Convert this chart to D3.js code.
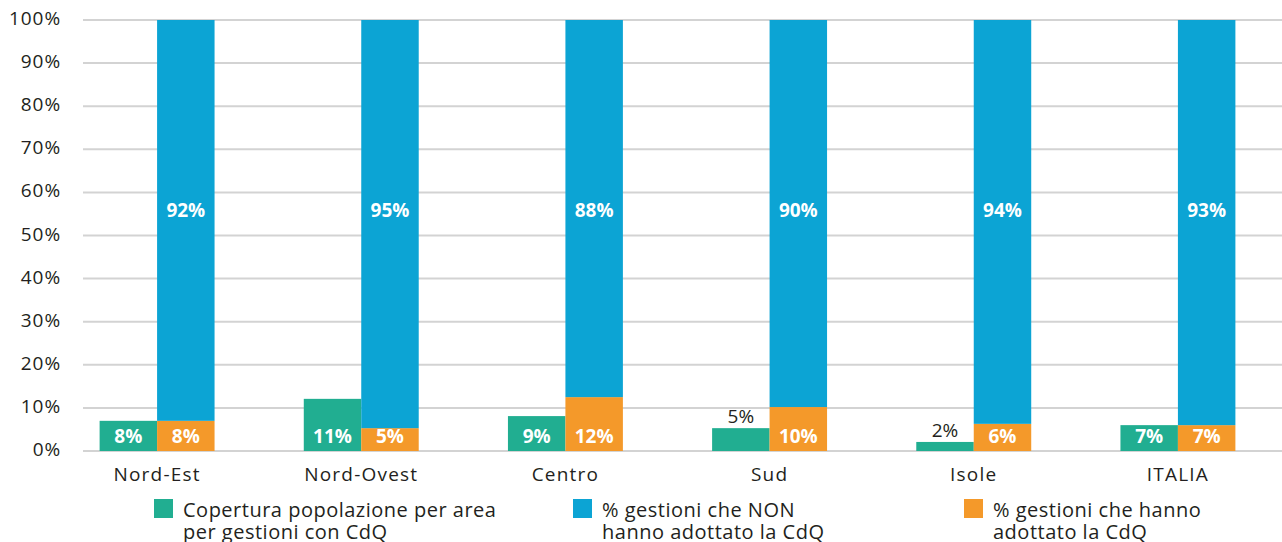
<!DOCTYPE html>
<meta charset="utf-8">
<style>
  body { margin: 0; background: #fff; }
  * { font-family: "Open Sans", sans-serif; }
  .tick-lbl { font-size: 19px; fill: #231f20; letter-spacing: 0.9px; }
  .cat-lbl { font-size: 19px; fill: #231f20; letter-spacing: 1.2px; }
  .val-in { font-size: 19px; font-weight: 700; fill: #fff; }
  .val-out { font-size: 19px; fill: #231f20; }
  .leg { font-size: 20px; fill: #231f20; letter-spacing: 0.5px; }
</style>
<body>
<svg width="1282" height="542"></svg>
<script src="https://d3js.org/d3.v7.min.js"></script>
<script>

// data
var categories = ["Nord-Est", "Nord-Ovest", "Centro", "Sud", "Isole", "ITALIA"];
var copertura = [7.0, 12.1, 8.1, 5.3, 2.1, 6.0];
var adottato = [7.0, 5.3, 12.5, 10.2, 6.3, 6.0];
var nonAdottato = [93.0, 94.7, 87.5, 89.8, 93.7, 94.0];
var coperturaLbl = ["8%", "11%", "9%", "5%", "2%", "7%"];
var adottatoLbl = ["8%", "5%", "12%", "10%", "6%", "7%"];
var nonAdottatoLbl = ["92%", "95%", "88%", "90%", "94%", "93%"];
var yTicks = [0, 10, 20, 30, 40, 50, 60, 70, 80, 90, 100];
var legendNames = [
  ["Copertura popolazione per area", "per gestioni con CdQ"],
  ["% gestioni che NON", "hanno adottato la CdQ"],
  ["% gestioni che hanno", "adottato la CdQ"]
];

var green = "#21ae91", blue = "#0ca4d4", orange = "#f4992a";

var svg = d3.select("svg");

var x = d3.scaleBand().domain(categories).range([55, 1280])
  .paddingInner(0.437).paddingOuter(0.2185);
var y = d3.scaleLinear().domain([0, 100]).range([451, 20]);
var half = x.bandwidth() / 2;

// gridlines
svg.append("g").selectAll("line")
  .data(yTicks).enter().append("line")
  .attr("x1", 83).attr("x2", 1282)
  .attr("y1", function(d) { return y(d); })
  .attr("y2", function(d) { return y(d); })
  .attr("stroke", "#d3d3d3").attr("stroke-width", 2);

// y tick labels
svg.append("g").selectAll("text")
  .data(yTicks).enter().append("text")
  .attr("class", "tick-lbl")
  .attr("x", 61).attr("y", function(d) { return y(d) + 5; })
  .attr("text-anchor", "end")
  .text(function(d) { return d + "%"; });

var rows = categories.map(function(c, i) {
  return { cat: c, cop: copertura[i], ado: adottato[i], non: nonAdottato[i],
           copL: coperturaLbl[i], adoL: adottatoLbl[i], nonL: nonAdottatoLbl[i] };
});

var g = svg.append("g").selectAll("g").data(rows).enter().append("g");

// green bars
g.append("rect")
  .attr("x", function(d) { return x(d.cat); })
  .attr("width", half)
  .attr("y", function(d) { return y(d.cop); })
  .attr("height", function(d) { return y(0) - y(d.cop); })
  .attr("fill", green);

// orange (adopted) bottom
g.append("rect")
  .attr("x", function(d) { return x(d.cat) + half; })
  .attr("width", half)
  .attr("y", function(d) { return y(d.ado); })
  .attr("height", function(d) { return y(0) - y(d.ado); })
  .attr("fill", orange);

// blue (not adopted) on top
g.append("rect")
  .attr("x", function(d) { return x(d.cat) + half; })
  .attr("width", half)
  .attr("y", function(d) { return y(d.ado + d.non); })
  .attr("height", function(d) { return y(d.ado) - y(d.ado + d.non); })
  .attr("fill", blue);

// labels
g.append("text")
  .attr("class", function(d) { return d.cop < 6 ? "val-out" : "val-in"; })
  .attr("x", function(d) { return x(d.cat) + half / 2; })
  .attr("y", function(d) { return d.cop < 6 ? y(d.cop) - 5 : y(0) - 8; })
  .attr("text-anchor", "middle")
  .text(function(d) { return d.copL; });

g.append("text")
  .attr("class", "val-in")
  .attr("x", function(d) { return x(d.cat) + half * 1.5; })
  .attr("y", y(0) - 8)
  .attr("text-anchor", "middle")
  .text(function(d) { return d.adoL; });

g.append("text")
  .attr("class", "val-in")
  .attr("x", function(d) { return x(d.cat) + half * 1.5; })
  .attr("y", y(56) + 7)
  .attr("text-anchor", "middle")
  .text(function(d) { return d.nonL; });

// category labels
g.append("text")
  .attr("class", "cat-lbl")
  .attr("x", function(d) { return x(d.cat) + half; })
  .attr("y", 481)
  .attr("text-anchor", "middle")
  .text(function(d) { return d.cat; });

// legend
var legX = [154, 573, 964];
var legColors = [green, blue, orange];
var leg = svg.append("g").selectAll("g").data(legendNames).enter().append("g");
leg.append("rect")
  .attr("x", function(d, i) { return legX[i]; })
  .attr("y", 499).attr("width", 19).attr("height", 19)
  .attr("fill", function(d, i) { return legColors[i]; });
leg.each(function(d, i) {
  var t = d3.select(this).append("text").attr("class", "leg");
  d.forEach(function(line, j) {
    t.append("tspan").attr("x", legX[i] + 29).attr("y", 517 + j * 21.5).text(line);
  });
});

</script>
</body>
